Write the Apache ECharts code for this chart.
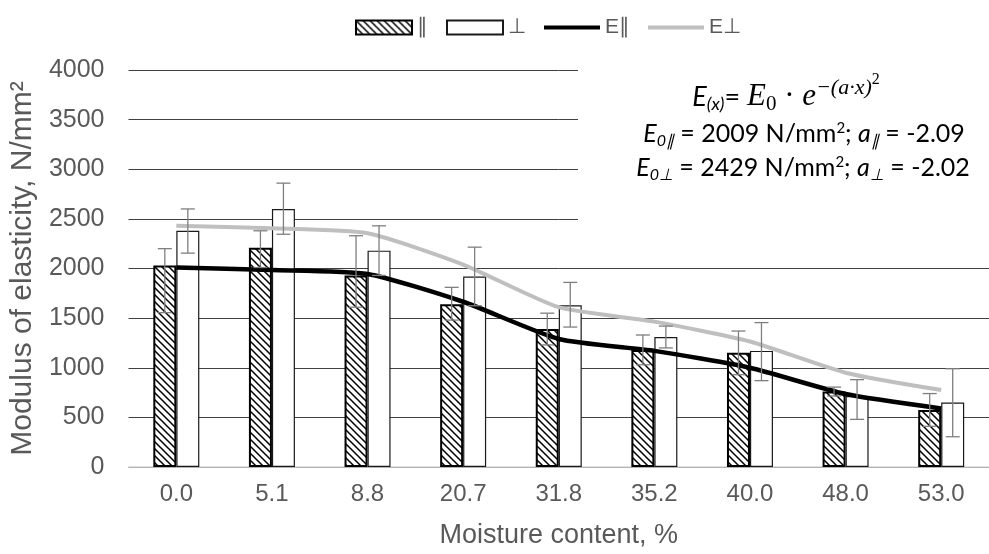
<!DOCTYPE html>
<html>
<head>
<meta charset="utf-8">
<script src="https://cdn.jsdelivr.net/npm/echarts@6/dist/echarts.min.js"></script>
<style>html,body{margin:0;padding:0;background:#fff}#chart{width:989px;height:554px}</style>
</head>
<body>
<div id="chart"></div>
<script>
// data
var categories = ['0.0', '5.1', '8.8', '20.7', '31.8', '35.2', '40.0', '48.0', '53.0'];
var parData = [2030, 2210, 1930, 1640, 1390, 1180, 1150, 760, 575];      // ∥
var perpData = [2380, 2600, 2180, 1920, 1630, 1310, 1170, 715, 650];     // ⊥
var parLow = [1555, 2010, 1610, 1480, 1230, 1030, 930, 715, 410];
var parHigh = [2200, 2380, 2330, 1810, 1550, 1330, 1370, 805, 740];
var perpLow = [2155, 2345, 1930, 1625, 1410, 1200, 870, 480, 305];
var perpHigh = [2600, 2860, 2430, 2215, 1860, 1420, 1455, 880, 990];
var fitPar = [2010, 1985, 1945, 1665, 1290, 1170, 1000, 735, 590];       // E∥
var fitPerp = [2430, 2405, 2355, 2040, 1610, 1465, 1265, 950, 775];      // E⊥

var myChart = echarts.init(document.getElementById('chart'));

// hatch pattern for the ∥ bars
var hatch = document.createElement('canvas');
hatch.width = 7; hatch.height = 7;
var ctx = hatch.getContext('2d');
ctx.fillStyle = '#fff';
ctx.fillRect(0, 0, 7, 7);
ctx.strokeStyle = '#000';
ctx.lineWidth = 1.5;
ctx.beginPath();
for (var k = -1; k <= 1; k++) {
    ctx.moveTo(k * 7 - 1, -1);
    ctx.lineTo(k * 7 + 8, 8);
}
ctx.stroke();

var barW = 23;
var axisFont = 'Liberation Sans';
var lineIcon = 'path://M0,0H56V4H0Z';

function errorSeries(low, high, shift) {
    return {
        type: 'custom',
        z: 5,
        encode: { x: 0, y: [1, 2] },
        data: low.map(function (v, i) { return [i, v, high[i]]; }),
        renderItem: function (params, api) {
            var lo = api.coord([api.value(0), api.value(1)]);
            var hi = api.coord([api.value(0), api.value(2)]);
            var x = lo[0] + shift;
            var st = { stroke: '#7f7f7f', lineWidth: 1.3 };
            return {
                type: 'group',
                children: [
                    { type: 'line', shape: { x1: x, y1: lo[1], x2: x, y2: hi[1] }, style: st },
                    { type: 'line', shape: { x1: x - 7, y1: lo[1], x2: x + 7, y2: lo[1] }, style: st },
                    { type: 'line', shape: { x1: x - 7, y1: hi[1], x2: x + 7, y2: hi[1] }, style: st }
                ]
            };
        }
    };
}

var richStyles = {
    Ei: { fontFamily: 'Lato', fontStyle: 'italic', fontSize: 25, color: '#000' },
    Eb: { fontFamily: 'Lato', fontStyle: 'italic', fontSize: 27, color: '#000' },
    sub: { fontFamily: 'Lato', fontStyle: 'italic', fontSize: 16, color: '#000', padding: [13, 0, 0, 0] },
    subb: { fontFamily: 'Lato', fontStyle: 'italic', fontSize: 18, color: '#000', padding: [14, 0, 0, 0] },
    n: { fontFamily: 'Lato', fontSize: 25, color: '#000' },
    nb: { fontFamily: 'Lato', fontSize: 27, color: '#000' },
    sup: { fontFamily: 'Lato', fontSize: 15, color: '#000', padding: [0, 0, 11, 0] },
    sE: { fontFamily: 'Liberation Serif', fontStyle: 'italic', fontSize: 31, color: '#000' },
    s0: { fontFamily: 'Liberation Serif', fontSize: 21, color: '#000', padding: [14, 0, 0, 0] },
    sn: { fontFamily: 'Liberation Serif', fontSize: 31, color: '#000' },
    ssup: { fontFamily: 'Liberation Serif', fontStyle: 'italic', fontSize: 22, color: '#000', padding: [0, 0, 18, 0] },
    ssup2: { fontFamily: 'Liberation Serif', fontSize: 16, color: '#000', padding: [0, 0, 34, 0] }
};

var option = {
    backgroundColor: '#fff',
    animation: false,
    grid: { left: 125, right: -9, top: 70, bottom: 87 },
    legend: {
        left: 350,
        top: 12,
        itemWidth: 56,
        itemHeight: 14,
        itemGap: 18,
        textStyle: { color: '#595959', fontSize: 21, fontFamily: axisFont },
        data: [
            { name: '∥', icon: 'rect' },
            { name: '⊥', icon: 'rect' },
            { name: 'E∥', icon: lineIcon },
            { name: 'E⊥', icon: lineIcon }
        ]
    },
    xAxis: {
        type: 'category',
        data: categories,
        name: 'Moisture content, %',
        nameLocation: 'middle',
        nameGap: 55,
        nameTextStyle: { color: '#595959', fontSize: 27, fontFamily: axisFont },
        axisLine: { lineStyle: { color: '#d9d9d9', width: 1.5 } },
        axisTick: { show: false },
        axisLabel: { color: '#595959', fontSize: 24, fontFamily: axisFont, margin: 15 }
    },
    yAxis: {
        type: 'value',
        min: 0,
        max: 4000,
        interval: 500,
        name: 'Modulus of elasticity, N/mm²',
        nameLocation: 'middle',
        nameGap: 80,
        nameTextStyle: { color: '#595959', fontSize: 30, fontFamily: axisFont },
        axisLine: { show: false },
        axisTick: { show: false },
        axisLabel: {
            color: '#595959', fontSize: 25, fontFamily: axisFont, margin: 24,
            formatter: function (v) { return String(v); }
        },
        splitLine: { lineStyle: { color: '#404040', width: 1 } }
    },
    series: [
        {
            name: '∥',
            type: 'bar',
            data: parData,
            barWidth: barW,
            barGap: '0%',
            itemStyle: { color: { image: hatch, repeat: 'repeat' }, borderColor: '#000', borderWidth: 2 }
        },
        {
            name: '⊥',
            type: 'bar',
            data: perpData,
            barWidth: barW,
            barGap: '0%',
            itemStyle: { color: '#fff', borderColor: '#1a1a1a', borderWidth: 1.2 }
        },
        errorSeries(parLow, parHigh, -barW / 2),
        errorSeries(perpLow, perpHigh, barW / 2),
        {
            name: 'E∥',
            type: 'line',
            data: fitPar,
            z: 4,
            symbol: 'none',
            smooth: 0.2,
            lineStyle: { color: '#000', width: 4.5 },
            itemStyle: { color: '#000' }
        },
        {
            name: 'E⊥',
            type: 'line',
            data: fitPerp,
            z: 4,
            symbol: 'none',
            smooth: 0.2,
            lineStyle: { color: '#bfbfbf', width: 4 },
            itemStyle: { color: '#bfbfbf' }
        }
    ],
    graphic: [
        {
            type: 'rect', left: 578, top: 55, z: 50,
            shape: { width: 420, height: 177 },
            style: { fill: '#fff' }
        },
        {
            type: 'text', x: 786, y: 97, z: 51,
            style: {
                text: '{Eb|E}{subb|(x)}{nb|= }{sE|E}{s0|0}{sn| · }{sE|e}{ssup|−(a·x)}{ssup2|2}',
                rich: richStyles, align: 'center', verticalAlign: 'middle'
            }
        },
        {
            type: 'text', x: 804, y: 134, z: 51,
            style: {
                text: '{Ei|E}{sub|0∥}{n| = 2009 N/mm}{sup|2}{n|; }{Ei|a}{sub|∥}{n| = -2.09}',
                rich: richStyles, align: 'center', verticalAlign: 'middle'
            }
        },
        {
            type: 'text', x: 803, y: 168, z: 51,
            style: {
                text: '{Ei|E}{sub|0⊥}{n| = 2429 N/mm}{sup|2}{n|; }{Ei|a}{sub|⊥}{n| = -2.02}',
                rich: richStyles, align: 'center', verticalAlign: 'middle'
            }
        }
    ]
};

myChart.setOption(option);
</script>
</body>
</html>
